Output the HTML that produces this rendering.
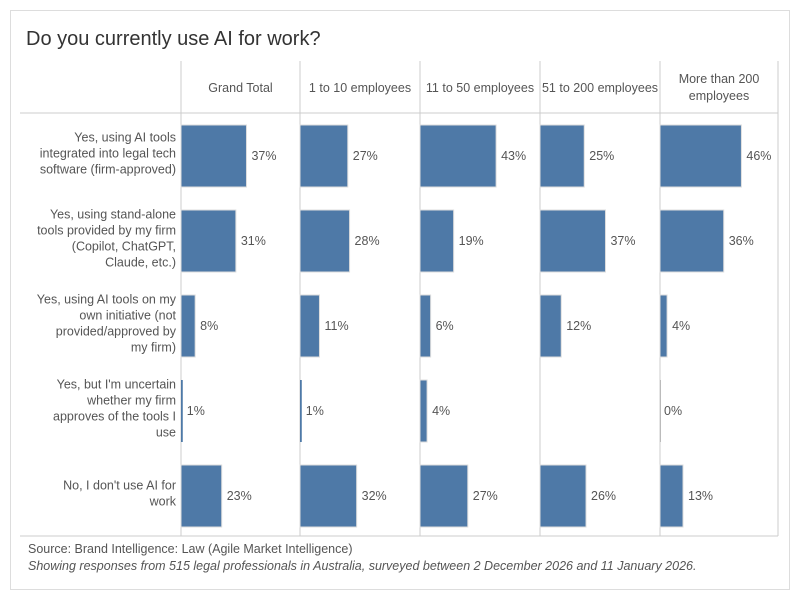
<!DOCTYPE html>
<html><head><meta charset="utf-8"><style>
body{margin:0;background:#fff;font-family:"Liberation Sans",sans-serif;}
.frame{position:absolute;left:10px;top:10px;width:780px;height:580px;border:1px solid #ddd;box-sizing:border-box;}
.t{position:absolute;white-space:nowrap;color:#555;}
</style></head><body>
<div class="frame"></div>
<div class="t" style="left:26px;top:28px;font-size:20px;color:#333">Do you currently use AI for work?</div>
<svg id="c" width="800" height="600" style="position:absolute;left:0;top:0"></svg>
<div class="t" style="left:28px;top:542px;font-size:12.5px">Source: Brand Intelligence: Law (Agile Market Intelligence)</div>
<div class="t" style="left:28px;top:559px;font-size:12.5px;font-style:italic">Showing responses from 515 legal professionals in Australia, surveyed between 2 December 2026 and 11 January 2026.</div>
<script>
const columns=["Grand Total","1 to 10 employees","11 to 50 employees","51 to 200 employees","More than 200 employees"];
const categories=[["Yes, using AI tools","integrated into legal tech","software (firm-approved)"],["Yes, using stand-alone","tools provided by my firm","(Copilot, ChatGPT,","Claude, etc.)"],["Yes, using AI tools on my","own initiative (not","provided/approved by","my firm)"],["Yes, but I'm uncertain","whether my firm","approves of the tools I","use"],["No, I don't use AI for","work"]];
const grandTotal=[37,31,8,1,23];
const small=[27,28,11,1,32];
const mid=[43,19,6,4,27];
const large=[25,37,12,null,26];
const xlarge=[46,36,4,0,13];
const series=[grandTotal,small,mid,large,xlarge];
const NS="http://www.w3.org/2000/svg";
const svg=document.getElementById('c');
const panelX=[181,300,420,540,660], rightX=778, topY=61, headBot=113, rowH=85, pxPer=1.77;
const xPos=(i,v)=>panelX[i]+v*pxPer;
const yPos=r=>headBot+r*rowH;
function el(tag,attrs){const e=document.createElementNS(NS,tag);for(const k in attrs)e.setAttribute(k,attrs[k]);svg.appendChild(e);return e;}
function txt(s,xx,yy,anchor,name){const e=el('text',{x:xx,y:yy,'font-size':12.5,fill:'#555','text-anchor':anchor,'font-family':'DejaVu Sans, Liberation Sans, sans-serif','textLength':''});e.removeAttribute('textLength');e.setAttribute('font-family','Liberation Sans, sans-serif');e.textContent=s;

return e;}
const l1=el('line',{x1:20,y1:headBot,x2:rightX,y2:headBot,stroke:'#ccc'});


const l2=el('line',{x1:20,y1:yPos(5)-2,x2:rightX,y2:yPos(5)-2,stroke:'#ccc'});


[...panelX,rightX].forEach(px=>{const l=el('line',{x1:px,y1:topY,x2:px,y2:yPos(5)-2,stroke:'#ccc'});

});
columns.forEach((c,i)=>{const cx=(panelX[i]+(panelX[i+1]||rightX))/2;
 if(c==="More than 200 employees"){txt("More than 200",cx,83,'middle','column-header');txt("employees",cx,100,'middle','column-header');}
 else txt(c,cx,92,'middle','column-header');});
categories.forEach((lines,r)=>{const cy=yPos(r)+rowH/2-2;const n=lines.length;
 lines.forEach((s,k)=>txt(s,176,cy+(k-(n-1)/2)*16+4,'end','row-label'));});
series.forEach((vals,i)=>vals.forEach((v,r)=>{if(v===null)return;
 const w=Math.max(v*pxPer,1);const b=el('rect',{x:panelX[i],y:yPos(r)+12,width:w,height:62,fill:v===0?'#bbb':'#4e79a7',stroke:v>1?'#ddd':'none','stroke-width':1});
 
 
 txt(v+'%',xPos(i,v)+(v>1?5:4),yPos(r)+47,'start','bar-value-label');}));
</script>
</body></html>
